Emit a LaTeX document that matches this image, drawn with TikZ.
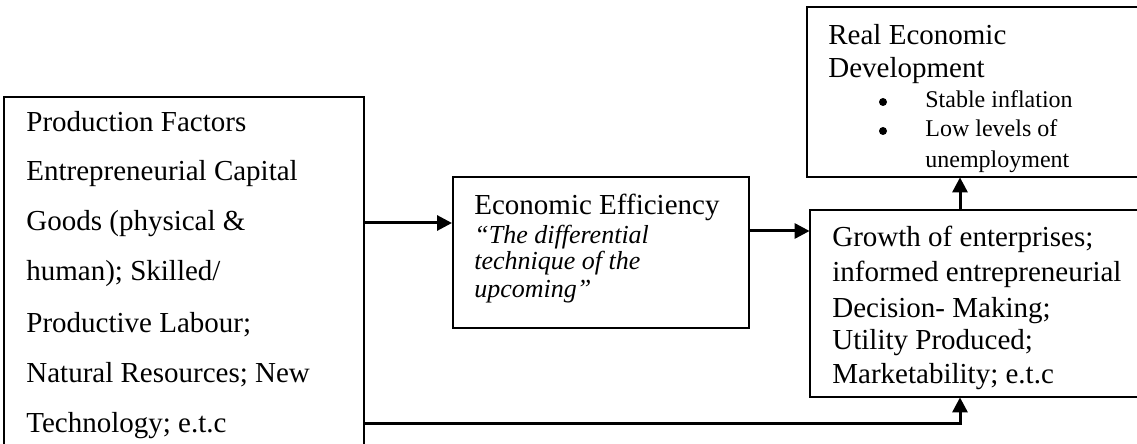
\documentclass[tikz,border=0pt]{standalone}
\usepackage{fontspec}
\setmainfont{Liberation Serif}
\usetikzlibrary{arrows.meta}
\begin{document}
\begin{tikzpicture}[x=0.5pt,y=-0.5pt,
 box/.style={draw,line width=1pt,inner sep=0pt,rectangle},
 openbox/.style={inner sep=0pt,rectangle},
 boxline/.style={line width=1pt},
 conn/.style={line width=1.5pt},
 arr/.style={conn,-{Triangle[length=7.5pt,width=7.5pt]}},
 bul/.style={circle,fill,inner sep=0pt,minimum size=4pt},
 txt/.style={anchor=base west,inner sep=0pt,font=\fontsize{14.5pt}{17pt}\selectfont},
 itxt/.style={anchor=base west,inner sep=0pt,font=\fontsize{13pt}{15pt}\selectfont\itshape},
 stxt/.style={anchor=base west,inner sep=0pt,font=\fontsize{12pt}{14pt}\selectfont}]
\useasboundingbox (0,0) rectangle (1137,444);
\clip (0,0) rectangle (1137,444);
% boxes
\node[box,minimum width=180pt,minimum height=186.5pt] (pf) at (184,283.5) {};
\node[box,minimum width=148pt,minimum height=75.5pt] (ee) at (601,252.5) {};
\node[openbox,minimum width=300pt,minimum height=85pt] (red) at (1107,92) {};
\node[openbox,minimum width=300pt,minimum height=93.5pt] (gr) at (1110,303.5) {};
\draw[boxline] (red.north east) -| (red.south west) -- (red.south east);
\draw[boxline] (gr.north east) -| (gr.south west) -- (gr.south east);
% texts: production factors
\node[txt] (pf0) at (26,132) {Production Factors};
\node[txt] (pf1) at (26,181) {Entrepreneurial Capital};
\node[txt] (pf2) at (26,231) {Goods (physical \&};
\node[txt] (pf3) at (26,281) {human); Skilled/};
\node[txt] (pf4) at (26,332) {Productive Labour;};
\node[txt] (pf5) at (26,382) {Natural Resources; New};
\node[txt] (pf6) at (26,432) {Technology; e.t.c};
% economic efficiency
\node[txt] (ee0) at (474,215) {Economic Efficiency};
\node[itxt] (ee1) at (474,243) {“The differential};
\node[itxt] (ee2) at (474,270) {technique of the};
\node[itxt] (ee3) at (474,298) {upcoming”};
% real economic development
\node[txt] (rd0) at (828,45) {Real Economic};
\node[txt] (rd1) at (828,78) {Development};
\node[bul] (b1) at (883,102) {};
\node[stxt] (rd2) at (925,108) {Stable inflation};
\node[bul] (b2) at (883,131) {};
\node[stxt] (rd3) at (925,137) {Low levels of};
\begin{scope}
\clip (800,140) rectangle (1137,176);
\node[stxt] (rd4) at (925,168) {unemployment};
\end{scope}
% growth
\node[txt] (gr0) at (832,247) {Growth of enterprises;};
\node[txt] (gr1) at (832,282) {informed entrepreneurial};
\node[txt] (gr2) at (832,317) {Decision- Making;};
\node[txt] (gr3) at (832,350) {Utility Produced;};
\node[txt] (gr4) at (832,383) {Marketability; e.t.c};
% connectors
\coordinate (ya) at (0,223);
\coordinate (yb) at (0,231);
\coordinate (yc) at (0,423);
\coordinate (xv) at (960,0);
\draw[arr] (pf.east |- ya) -- (ee.west |- ya);
\draw[arr] (ee.east |- yb) -- (gr.west |- yb);
\draw[arr] (pf.east |- yc) -| (gr.south -| xv);
\draw[arr] (gr.north -| xv) -- (red.south -| xv);
\end{tikzpicture}
\end{document}
